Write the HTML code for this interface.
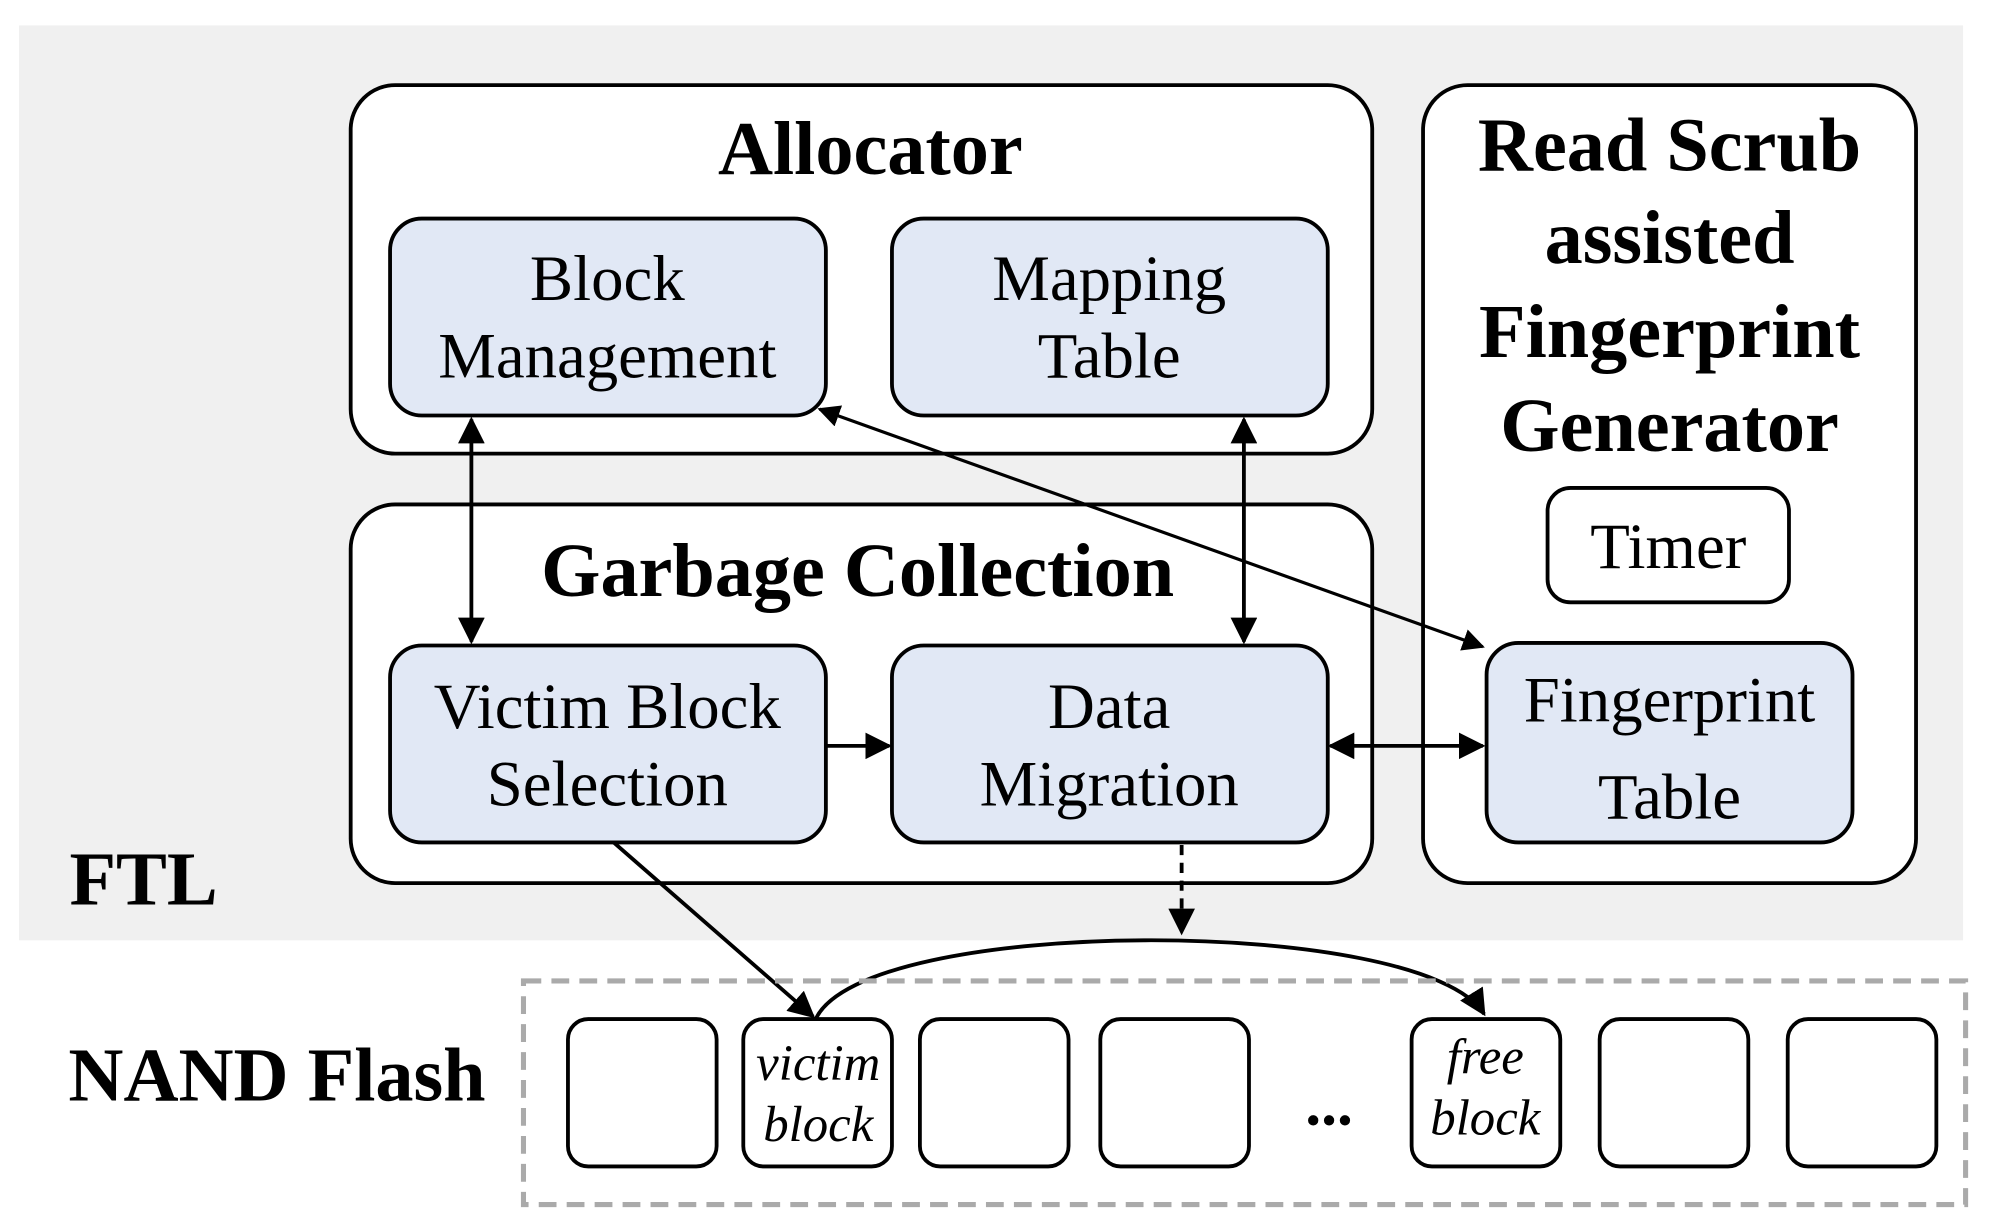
<!DOCTYPE html>
<html><head><meta charset="utf-8"><style>html,body{margin:0;padding:0;background:#fff}svg{display:block}</style></head>
<body>
<svg width="1991" height="1230" viewBox="0 0 1567 968" preserveAspectRatio="none" xmlns="http://www.w3.org/2000/svg" font-family="'Liberation Serif', serif">
<defs>
<marker id="a" viewBox="0 0 10 10" refX="9" refY="5" markerWidth="7" markerHeight="7" orient="auto-start-reverse"><path d="M0,0 L10,5 L0,10 z" fill="#000"/></marker>
</defs>
<rect x="15" y="20" width="1530" height="720" fill="#f0f0f0"/>
<g stroke="#000" stroke-width="3" fill="#fff">
<rect x="276" y="67" width="804" height="290" rx="35"/>
<rect x="276" y="397" width="804" height="298" rx="35"/>
<rect x="1120" y="67" width="388" height="628" rx="35"/>
<rect x="1218" y="384" width="190" height="90" rx="18"/>
</g>
<g stroke="#000" stroke-width="3" fill="#e1e8f5">
<rect x="307" y="172" width="343" height="155" rx="25"/>
<rect x="702" y="172" width="343" height="155" rx="25"/>
<rect x="307" y="508" width="343" height="155" rx="25"/>
<rect x="702" y="508" width="343" height="155" rx="25"/>
<rect x="1170" y="506" width="288" height="157" rx="25"/>
</g>
<g font-weight="bold" font-size="60" text-anchor="middle">
<text x="685" y="137">Allocator</text>
<text x="675" y="469">Garbage Collection</text>
<text x="1314" y="134">Read Scrub</text>
<text x="1314" y="207">assisted</text>
<text x="1314" y="281">Fingerprint</text>
<text x="1314" y="355">Generator</text>
<text x="113" y="712">FTL</text>
<text x="218" y="866">NAND Flash</text>
</g>
<g font-size="51" text-anchor="middle">
<text x="478" y="236">Block</text>
<text x="478" y="297">Management</text>
<text x="873" y="236">Mapping</text>
<text x="873" y="297">Table</text>
<text x="478" y="573">Victim Block</text>
<text x="478" y="634">Selection</text>
<text x="873" y="573">Data</text>
<text x="873" y="634">Migration</text>
<text x="1314" y="568">Fingerprint</text>
<text x="1314" y="644">Table</text>
<text x="1313" y="447">Timer</text>
</g>
<g stroke="#000" stroke-width="3" fill="none">
<line x1="371" y1="330" x2="371" y2="505" marker-start="url(#a)" marker-end="url(#a)"/>
<line x1="979" y1="330" x2="979" y2="505" marker-start="url(#a)" marker-end="url(#a)"/>
<line x1="650" y1="587" x2="700" y2="587" marker-end="url(#a)"/>
<line x1="1047" y1="587" x2="1167" y2="587" marker-start="url(#a)" marker-end="url(#a)"/>
<line x1="645" y1="322" x2="1167" y2="509" marker-start="url(#a)" marker-end="url(#a)" stroke-width="2.5"/>
<line x1="930" y1="665" x2="930" y2="734" stroke-dasharray="8,6" marker-end="url(#a)"/>
<line x1="483" y1="663" x2="640" y2="800" marker-end="url(#a)"/>
<path d="M642,802 C680,720 1120,720 1168,798" marker-end="url(#a)"/>
</g>
<rect x="412" y="772" width="1135" height="176" fill="none" stroke="#aaa" stroke-width="4" stroke-dasharray="14,8"/>
<g stroke="#000" stroke-width="3" fill="#fff">
<rect x="447" y="802" width="117" height="116" rx="16"/>
<rect x="585" y="802" width="117" height="116" rx="16"/>
<rect x="724" y="802" width="117" height="116" rx="16"/>
<rect x="866" y="802" width="117" height="116" rx="16"/>
<rect x="1111" y="802" width="117" height="116" rx="16"/>
<rect x="1259" y="802" width="117" height="116" rx="16"/>
<rect x="1407" y="802" width="117" height="116" rx="16"/>
</g>
<g font-size="40" font-style="italic" text-anchor="middle">
<text x="644" y="850">victim</text>
<text x="644" y="898">block</text>
<text x="1169" y="845">free</text>
<text x="1169" y="893">block</text>
</g>
<text x="1046" y="885" font-size="50" font-weight="bold" text-anchor="middle">...</text>
</svg>
</body></html>
